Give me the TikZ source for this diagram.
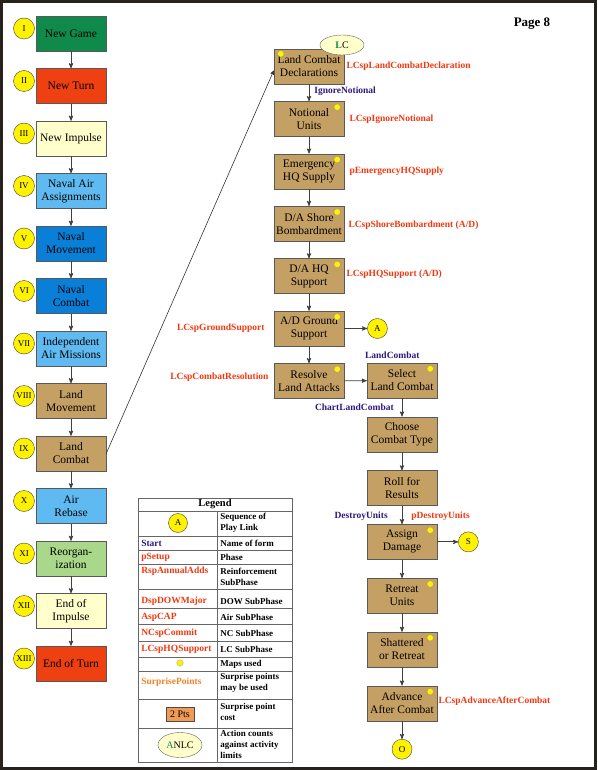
\documentclass[tikz,border=0pt]{standalone}
\usepackage{fontspec}
\setmainfont{Liberation Serif}
\usetikzlibrary{arrows,positioning,shapes.geometric}

\definecolor{gamegreen}{RGB}{16,138,74}
\definecolor{turnred}{RGB}{238,64,16}
\definecolor{pale}{RGB}{255,255,204}
\definecolor{airblue}{RGB}{94,186,240}
\definecolor{navalblue}{RGB}{10,127,216}
\definecolor{tan}{RGB}{196,160,100}
\definecolor{reorg}{RGB}{170,216,138}
\definecolor{lcred}{RGB}{240,56,16}
\definecolor{formblue}{RGB}{46,24,128}
\definecolor{spoint}{RGB}{240,130,40}
\definecolor{ptsbox}{RGB}{240,155,85}
\definecolor{frame}{RGB}{40,34,30}

\tikzset{
  phase/.style={draw=black!65, thin, minimum width=70pt, minimum height=35pt, align=center, inner sep=1pt, font=\fontsize{11.5}{13}\selectfont},
  seq/.style={circle, draw=black!75, thin, fill=yellow, minimum size=21pt, inner sep=0pt, font=\fontsize{9}{9}\selectfont},
  mapdot/.style={circle, draw=black!45, very thin, fill=yellow, minimum size=6.5pt, inner sep=0pt},
  spname/.style={text=lcred, font=\bfseries\fontsize{9.5}{10}\selectfont, inner sep=0pt},
  formname/.style={text=formblue, font=\bfseries\fontsize{9.5}{10}\selectfont, inner sep=0pt},
  legtext/.style={font=\bfseries\fontsize{9}{11}\selectfont, align=left, inner sep=0pt, anchor=west},
  flow/.style={draw=black!75, line width=0.85pt},
}

\begin{document}
\begin{tikzpicture}[->,>=stealth',x=1pt,y=-1pt,node distance=52.5pt,semithick]
  \useasboundingbox (0,0) rectangle (597,770);
  \draw[-, line width=2.6pt, frame] (1.3,1.3) rectangle (595.7,768.7);
  \node[font=\bfseries\fontsize{13}{13}\selectfont] (page) at (532,24) {Page 8};

  % sequence of play
  \node[phase, fill=gamegreen] (game) at (71,33.5) {New Game};
  \node[phase, fill=turnred, below of=game] (turn) {New Turn};
  \node[phase, fill=pale, below of=turn] (impulse) {New Impulse};
  \node[phase, fill=airblue, below of=impulse] (navair) {Naval Air\\Assignments};
  \node[phase, fill=navalblue, below of=navair] (navmove) {Naval\\Movement};
  \node[phase, fill=navalblue, below of=navmove] (navcombat) {Naval\\Combat};
  \node[phase, fill=airblue, below of=navcombat] (indair) {Independent\\Air Missions};
  \node[phase, fill=tan, below of=indair] (landmove) {Land\\Movement};
  \node[phase, fill=tan, below of=landmove] (landcombat) {Land\\Combat};
  \node[phase, fill=airblue, below of=landcombat] (rebase) {Air\\Rebase};
  \node[phase, fill=reorg, below of=rebase] (reorg) {Reorgan-\\ization};
  \node[phase, fill=pale, below of=reorg] (endimp) {End of\\Impulse};
  \node[phase, fill=turnred, below of=endimp] (endturn) {End of Turn};

  \foreach \n/\r in {game/I, turn/II, impulse/III, navair/IV, navmove/V, navcombat/VI,
      indair/VII, landmove/VIII, landcombat/IX, rebase/X, reorg/XI, endimp/XII, endturn/XIII}
    \node[seq] (seq-\n) at ([xshift=-47pt,yshift=5pt]\n.center) {\r};

  \foreach \a/\b in {game/turn, turn/impulse, impulse/navair, navair/navmove, navmove/navcombat,
      navcombat/indair, indair/landmove, landmove/landcombat, landcombat/rebase, rebase/reorg,
      reorg/endimp, endimp/endturn}
    \draw[flow] (\a) -- (\b);

  % land combat
  \begin{scope}[node distance=52.4pt]
    \node[phase, fill=tan] (lcd) at (309,66.5) {Land Combat\\Declarations};
    \node[phase, fill=tan, below of=lcd] (notional) {Notional\\Units};
    \node[phase, fill=tan, below of=notional] (emerg) {Emergency\\HQ Supply};
    \node[phase, fill=tan, below of=emerg] (shore) {D/A Shore\\Bombardment};
    \node[phase, fill=tan, below of=shore] (hqsup) {D/A HQ\\Support};
    \node[phase, fill=tan, below of=hqsup] (ground) {A/D Ground\\Support};
    \node[phase, fill=tan, below of=ground] (resolve) {Resolve\\Land Attacks};
  \end{scope}
  \begin{scope}[node distance=53.8pt]
    \node[phase, fill=tan] (select) at (402,380.5) {Select\\Land Combat};
    \node[phase, fill=tan, below of=select] (choose) {Choose\\Combat Type};
    \node[phase, fill=tan, below of=choose] (roll) {Roll for\\Results};
    \node[phase, fill=tan, below of=roll] (assign) {Assign\\Damage};
    \node[phase, fill=tan, below of=assign] (retreat) {Retreat\\Units};
    \node[phase, fill=tan, below of=retreat] (shatter) {Shattered\\or Retreat};
    \node[phase, fill=tan, below of=shatter] (advance) {Advance\\After Combat};
  \end{scope}

  \node[ellipse, draw=black!60, thin, fill=pale, minimum width=44pt, minimum height=20pt, inner sep=0pt,
    font=\fontsize{10}{10}\selectfont] (lc) at (342,45) {\textcolor{gamegreen}{\bfseries L}C};
  \node[mapdot] at ([xshift=7pt,yshift=-5pt]lcd.north west) {};
  \foreach \n in {notional, emerg, shore, hqsup, ground, resolve, select, assign, retreat, shatter, advance}
    \node[mapdot] at ([xshift=-7pt,yshift=-6pt]\n.north east) {};

  \node[seq, minimum size=20pt, right=23pt of ground] (linkA) {A};
  \node[seq, minimum size=20pt, right=21pt of assign] (linkS) {S};
  \node[seq, minimum size=20pt, below=18pt of advance] (linkO) {O};

  \foreach \a/\b in {lcd/notional, notional/emerg, emerg/shore, shore/hqsup, hqsup/ground,
      ground/resolve, select/choose, choose/roll, roll/assign, assign/retreat, retreat/shatter,
      shatter/advance, ground/linkA, resolve/select, assign/linkS, advance/linkO}
    \draw[flow] (\a) -- (\b);
  \draw[black!80, line width=0.6pt] (landcombat.east) -- ([yshift=-4pt]lcd.west);

  % form and subphase names
  \node[spname, anchor=west] at ([xshift=2pt]lcd.east) {LCspLandCombatDeclaration};
  \node[formname, anchor=west] at ([xshift=5pt,yshift=-7pt]lcd.south) {IgnoreNotional};
  \node[spname, anchor=west] at ([xshift=5pt]notional.east) {LCspIgnoreNotional};
  \node[spname, anchor=west] at ([xshift=5pt]emerg.east) {pEmergencyHQSupply};
  \node[spname, anchor=west] at ([xshift=4pt,yshift=-1.5pt]shore.east) {LCspShoreBombardment (A/D)};
  \node[spname, anchor=west] at ([xshift=2pt,yshift=1.5pt]hqsup.east) {LCspHQSupport (A/D)};
  \node[spname, anchor=east] at ([xshift=-9pt]ground.west) {LCspGroundSupport};
  \node[spname, anchor=east] at ([xshift=-5pt,yshift=4pt]resolve.west) {LCspCombatResolution};
  \node[formname, anchor=base west] at ([xshift=-2pt,yshift=4pt]select.north west) {LandCombat};
  \node[formname, anchor=east] at ([xshift=-8pt,yshift=-9.5pt]select.south) {ChartLandCombat};
  \node[formname, anchor=east] at ([xshift=-14pt,yshift=-10pt]roll.south) {DestroyUnits};
  \node[spname, anchor=west] at ([xshift=9pt,yshift=-10pt]roll.south) {pDestroyUnits};
  \node[spname, anchor=west] at ([xshift=1pt,yshift=2.5pt]advance.east) {LCspAdvanceAfterCombat};

  % legend
  \draw[-, thin, black!60] (138,498) rectangle (292,762);
  \foreach \y in {511,536,550,564,589,608,624,641,657,671,699,728}
    \draw[-, thin, black!60] (138,\y) -- (292,\y);
  \draw[-, thin, black!60] (217,511) -- (217,762);
  \node[font=\bfseries\fontsize{10.5}{10.5}\selectfont] (legend) at (215,504.5) {Legend};

  \node[seq, minimum size=19pt] (legA) at (178,523) {A};
  \node[formname, anchor=west] (legform) at (141,543) {Start};
  \node[spname, anchor=west] (legphase) at (141,557) {pSetup};
  \node[spname, anchor=west] (legrsp) at (141,571) {RspAnnualAdds};
  \node[spname, anchor=west] (legdsp) at (141,601) {DspDOWMajor};
  \node[spname, anchor=west] (legasp) at (141,617) {AspCAP};
  \node[spname, anchor=west] (legncsp) at (141,633) {NCspCommit};
  \node[spname, anchor=west] (leglcsp) at (141,649) {LCspHQSupport};
  \node[mapdot] (legmap) at (180,663) {};
  \node[spname, text=spoint, anchor=west] (legsp) at (141,682) {SurprisePoints};
  \node[draw=black!70, thin, fill=ptsbox, inner sep=1.5pt, minimum width=28pt, minimum height=14pt,
    font=\fontsize{10}{10}\selectfont] (legpts) at (180,714) {2 Pts};
  \node[ellipse, draw=black!60, thin, fill=pale, minimum width=44pt, minimum height=25pt, inner sep=0pt,
    font=\fontsize{10}{10}\selectfont] (legan) at (180,745) {\textcolor{gamegreen}{A}NLC};

  \node[legtext] at (220,522.5) {Sequence of\\Play Link};
  \node[legtext] at (220,543) {Name of form};
  \node[legtext] at (220,557) {Phase};
  \node[legtext] at (220,576.5) {Reinforcement\\SubPhase};
  \node[legtext] at (220,601) {DOW SubPhase};
  \node[legtext] at (220,617) {Air SubPhase};
  \node[legtext] at (220,633) {NC SubPhase};
  \node[legtext] at (220,649) {LC SubPhase};
  \node[legtext] at (220,664) {Maps used};
  \node[legtext] at (220,683) {Surprise points\\may be used};
  \node[legtext] at (220,712) {Surprise point\\cost};
  \node[legtext] at (220,744) {Action counts\\against activity\\limits};
\end{tikzpicture}
\end{document}
